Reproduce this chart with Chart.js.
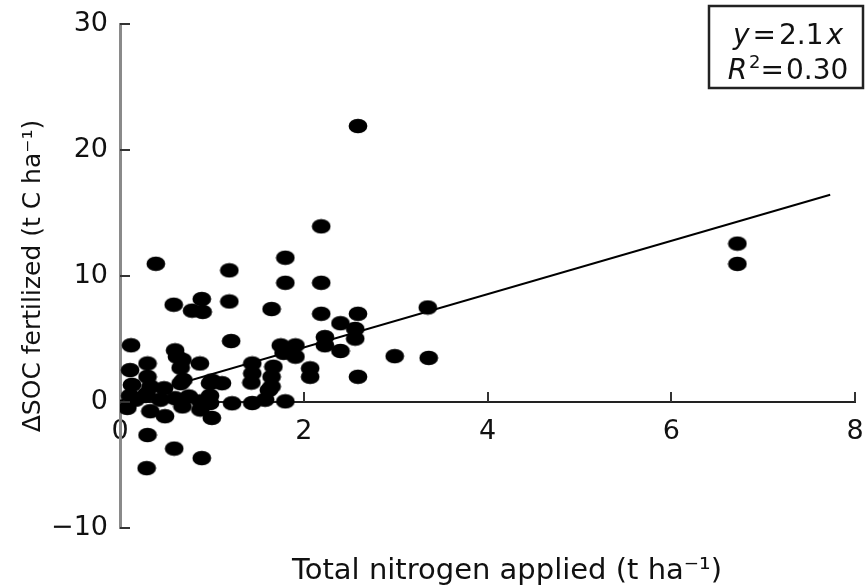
<!DOCTYPE html>
<html>
<head>
<meta charset="utf-8">
<script src="https://cdn.jsdelivr.net/npm/chart.js@4.4.0/dist/chart.umd.min.js"></script>
<style>
  html, body { margin: 0; padding: 0; background: #fff; }
</style>
</head>
<body>
<canvas id="c" width="865" height="585"></canvas>
<script>
// total nitrogen applied (t ha-1) and change in SOC (t C ha-1)
var nitrogen = [
  2.59, 2.19, 1.80, 6.72, 6.72, 0.39, 1.19, 1.80, 2.19, 0.585,
  0.89, 0.785, 0.90, 1.19, 1.65, 2.19, 2.59, 3.35, 2.40, 2.56,
  2.56, 2.23, 2.23, 2.40, 2.99, 3.36, 2.59, 2.07, 2.07, 1.21,
  1.75, 1.91, 1.91, 1.78, 0.12, 0.60, 0.62, 0.68, 0.66, 0.87,
  0.30, 0.11, 0.30, 1.44, 1.44, 1.67, 1.65, 1.43, 1.65, 1.62,
  0.13, 0.33, 0.48, 0.66, 0.69, 0.98, 1.11, 1.00, 0.17, 0.28,
  0.44, 0.60, 0.75, 0.875, 0.68, 0.98, 0.98, 1.22, 1.44, 1.58,
  1.80, 0.08, 0.33, 0.49, 0.875, 1.00, 0.30, 0.59, 0.89, 0.29,
  0.11, 0.29
];
var deltaSoc = [
  21.9, 13.94, 11.45, 12.57, 10.96, 10.97, 10.45, 9.46, 9.46, 7.72,
  8.17, 7.25, 7.15, 7.98, 7.38, 7.0, 7.0, 7.5, 6.25, 5.8,
  5.03, 5.15, 4.5, 4.05, 3.64, 3.5, 2.0, 2.67, 2.0, 4.84,
  4.49, 4.49, 3.6, 3.9, 4.5, 4.1, 3.6, 3.35, 2.72, 3.06,
  3.06, 2.53, 2.0, 3.06, 2.27, 2.8, 2.0, 1.54, 1.23, 0.95,
  1.36, 1.23, 1.09, 1.49, 1.75, 1.49, 1.49, 1.7, 0.18, 0.5,
  0.18, 0.3, 0.44, 0.05, -0.35, 0.5, -0.08, -0.1, -0.08, 0.18,
  0.05, -0.47, -0.73, -1.13, -0.6, -1.26, -2.62, -3.7, -4.45, -5.25,
  0.5, 0.65
];
// fitted line y = 2.1x, end points
var fitX = [0, 7.73];
var fitY = [0.1, 16.45];

var xTicks = [0, 2, 4, 6, 8];
var yTicks = [-10, 0, 10, 20, 30];
var xTitle = 'Total nitrogen applied (t ha\u207B\u00B9)';
var yTitle = '\u0394SOC fertilized (t C ha\u207B\u00B9)';
var eqLine1 = [['y', 'i'], ['=', ''], ['2.1', ''], ['x', 'i']];
var eqLine2 = [['R', 'i'], ['2', 's'], ['=', ''], ['0.30', '']];

var points = nitrogen.map(function (v, i) { return { x: v, y: deltaSoc[i] }; });
var fitPts = fitX.map(function (v, i) { return { x: v, y: fitY[i] }; });

// the dots in the figure are slightly flattened
var dot = document.createElement('canvas');
dot.width = 20;
dot.height = 16;
var dctx = dot.getContext('2d');
dctx.fillStyle = '#000';
dctx.beginPath();
dctx.ellipse(10, 8, 9.4, 7.3, 0, 0, Math.PI * 2);
dctx.fill();

var FONT = '"DejaVu Sans", sans-serif';

// tick marks point into the plot
var innerTicks = {
  id: 'innerTicks',
  afterDraw: function (chart) {
    var c = chart.ctx, xs = chart.scales.x, ys = chart.scales.y;
    var left = chart.chartArea.left;
    var y0 = ys.getPixelForValue(0);
    c.save();
    c.strokeStyle = '#333';
    c.lineWidth = 2;
    c.beginPath();
    yTicks.forEach(function (v) {
      var p = Math.round(ys.getPixelForValue(v));
      c.moveTo(left, p);
      c.lineTo(left + 10, p);
    });
    xTicks.forEach(function (v) {
      if (v === 0) return;
      var p = Math.round(xs.getPixelForValue(v));
      c.moveTo(p, y0);
      c.lineTo(p, y0 - 10);
    });
    c.stroke();
    c.restore();
  }
};

function drawRuns(c, runs, cx, base, size, gap) {
  var w = 0;
  var parts = runs.map(function (r) {
    var f = (r[1] === 'i' ? 'italic ' : '') + (r[1] === 's' ? Math.round(size * 0.65) : size) + 'px ' + FONT;
    c.font = f;
    var m = c.measureText(r[0]).width + (r[1] === 's' ? 0 : gap);
    w += m;
    return { t: r[0], f: f, w: m, sup: r[1] === 's' };
  });
  var x = cx - (w - gap) / 2;
  c.textAlign = 'left';
  parts.forEach(function (p) {
    c.font = p.f;
    c.fillText(p.t, x, p.sup ? base - size * 0.38 : base);
    x += p.w;
  });
}

var extras = {
  id: 'extras',
  afterDraw: function (chart) {
    var c = chart.ctx;
    c.save();
    c.fillStyle = '#111';
    c.font = '29px ' + FONT;
    c.textAlign = 'center';
    c.textBaseline = 'alphabetic';
    c.fillText(xTitle, 507, 579);

    c.strokeStyle = '#222';
    c.lineWidth = 2.5;
    c.strokeRect(709, 6, 154, 82);
    drawRuns(c, eqLine1, 788, 44, 28, 3);
    drawRuns(c, eqLine2, 788, 79, 28, 2);
    c.restore();
  }
};

var ctx = document.getElementById('c').getContext('2d');
var chart = new Chart(ctx, {
  type: 'scatter',
  data: {
    datasets: [{
      data: points,
      pointStyle: dot,
      pointRadius: 9,
      order: 1
    }, {
      type: 'line',
      data: fitPts,
      borderColor: '#000',
      borderWidth: 2,
      pointRadius: 0,
      fill: false,
      order: 0
    }]
  },
  options: {
    responsive: false,
    animation: false,
    layout: { padding: { left: 0, top: 24, right: 10, bottom: 57 } },
    plugins: {
      legend: { display: false },
      tooltip: { enabled: false }
    },
    scales: {
      x: {
        type: 'linear',
        position: { y: 0 },
        min: 0,
        max: 8,
        afterBuildTicks: function (s) { s.ticks = xTicks.map(function (v) { return { value: v }; }); },
        afterFit: function (s) { s.paddingLeft = 0; s.paddingRight = 0; },
        grid: { display: false, drawTicks: false },
        border: { display: true, color: '#222', width: 2 },
        ticks: { color: '#111', padding: 14, maxRotation: 0, font: { family: FONT, size: 27 } }
      },
      y: {
        type: 'linear',
        min: -10,
        max: 30,
        afterBuildTicks: function (s) { s.ticks = yTicks.map(function (v) { return { value: v }; }); },
        afterFit: function (s) { s.width = 120; s.paddingTop = 0; s.paddingBottom = 0; },
        grid: { display: false, drawTicks: false },
        border: { display: true, color: '#8a8a8a', width: 3 },
        ticks: {
          color: '#111',
          padding: 12,
          font: { family: FONT, size: 27 },
          callback: function (v) { return String(v).replace('-', '\u2212'); }
        },
        title: {
          display: true,
          text: yTitle,
          color: '#111',
          font: { family: FONT, size: 25 },
          padding: { top: 18, bottom: 0 }
        }
      }
    }
  },
  plugins: [innerTicks, extras]
});
</script>
</body>
</html>
